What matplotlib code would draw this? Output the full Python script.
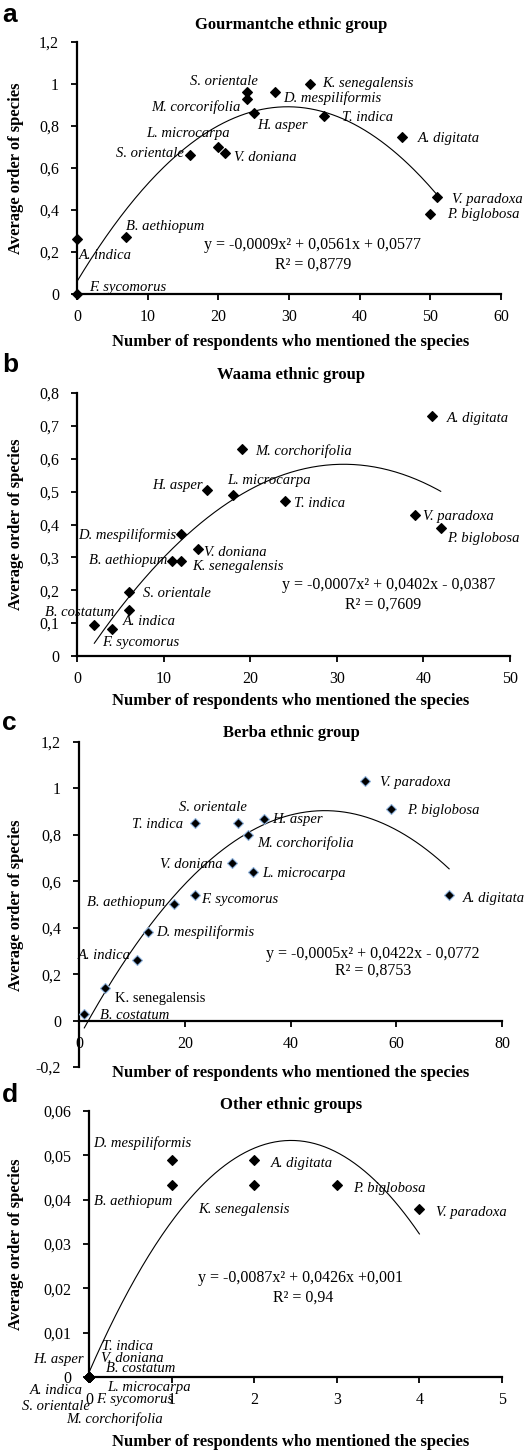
import numpy as np
import matplotlib
matplotlib.use('Agg')
import matplotlib.pyplot as plt
from matplotlib.ticker import MultipleLocator, FuncFormatter

W, H = 524, 1451

# a - Gourmantche ethnic group
a_species = ['S. orientale', 'M. corcorifolia', 'D. mespiliformis', 'K. senegalensis',
             'H. asper', 'T. indica', 'A. digitata', 'L. microcarpa', 'V. doniana',
             'S. orientale', 'V. paradoxa', 'P. biglobosa', 'B. aethiopum', 'A. indica',
             'F. sycomorus']
a_x = [24, 24, 28, 33, 25, 35, 46, 20, 21, 16, 51, 50, 7, 0, 0]
a_y = [0.96, 0.93, 0.96, 1.0, 0.86, 0.85, 0.75, 0.70, 0.67, 0.66, 0.46, 0.38, 0.27, 0.26, 0.0]
a_eq = ['y = -0,0009x² + 0,0561x + 0,0577', 'R² = 0,8779']

# b - Waama ethnic group
b_species = ['A. digitata', 'M. corchorifolia', 'H. asper', 'L. microcarpa', 'T. indica',
             'V. paradoxa', 'P. biglobosa', 'D. mespiliformis', 'V. doniana', 'B. aethiopum',
             'K. senegalensis', 'S. orientale', 'A. indica', 'B. costatum', 'F. sycomorus']
b_x = [41, 19, 15, 18, 24, 39, 42, 12, 14, 11, 12, 6, 6, 2, 4]
b_y = [0.73, 0.63, 0.505, 0.49, 0.47, 0.43, 0.39, 0.37, 0.325, 0.29, 0.29, 0.195, 0.14,
       0.094, 0.082]
b_eq = ['y = -0,0007x² + 0,0402x - 0,0387', 'R² = 0,7609']

# c - Berba ethnic group
c_species = ['V. paradoxa', 'P. biglobosa', 'T. indica', 'S. orientale', 'H. asper',
             'M. corchorifolia', 'V. doniana', 'L. microcarpa', 'A. digitata', 'F. sycomorus',
             'B. aethiopum', 'D. mespiliformis', 'A. indica', 'K. senegalensis', 'B. costatum']
c_x = [54, 59, 22, 30, 35, 32, 29, 33, 70, 22, 18, 13, 11, 5, 1]
c_y = [1.03, 0.91, 0.85, 0.85, 0.87, 0.80, 0.68, 0.64, 0.54, 0.54, 0.50, 0.38, 0.26, 0.14, 0.03]
c_eq = ['y = -0,0005x² + 0,0422x - 0,0772', 'R² = 0,8753']

# d - Other ethnic groups
d_species = ['D. mespiliformis', 'B. aethiopum', 'A. digitata', 'K. senegalensis',
             'P. biglobosa', 'V. paradoxa', 'T. indica', 'H. asper', 'V. doniana',
             'B. costatum', 'L. microcarpa', 'A. indica', 'F. sycomorus', 'S. orientale',
             'M. corchorifolia']
d_x = [1, 1, 2, 2, 3, 4, 0, 0, 0, 0, 0, 0, 0, 0, 0]
d_y = [0.0489, 0.0433, 0.0489, 0.0433, 0.0433, 0.0378, 0, 0, 0, 0, 0, 0, 0, 0, 0]
d_eq = ['y = -0,0087x² + 0,0426x +0,001', 'R² = 0,94']

# label placement (pixel offsets from the marker, alignment)
a_lab = [(11, 11, 'right'), (-6, -8, 'right'), (8, -6, 'left'), (12, 0, 'left'),
         (3, -12, 'left'), (18, -2, 'left'), (16, -2, 'left'), (-30, 13, 'center'),
         (9, -4, 'left'), (-6, 2, 'right'), (15, -2, 'left'), (17, 0, 'left'),
         (0, 11, 'left'), (2, -16, 'left'), (12, 6, 'left')]
b_lab = [(15, -2, 'left'), (14, -2, 'left'), (-4, 4, 'right'), (-6, 14, 'left'),
         (9, -2, 'left'), (8, -2, 'left'), (6, -11, 'left'), (-4, -1, 'right'),
         (6, -3, 'left'), (-5, 0, 'right'), (11, -6, 'left'), (14, -2, 'left'),
         (-6, -12, 'left'), (-49, 13, 'left'), (-10, -13, 'left')]
c_lab = [(15, -1, 'left'), (16, -1, 'left'), (-12, -1, 'right'), (-25, 16, 'center'),
         (8, -1, 'left'), (9, -8, 'left'), (-10, -2, 'right'), (9, -2, 'left'),
         (14, -3, 'left'), (6, -4, 'left'), (-9, 2, 'right'), (8, 0, 'left'),
         (-6, 5, 'right'), (10, -10, 'left'), (16, -2, 'left')]
d_lab = [(-29, 17, 'center'), (-38, -16, 'center'), (17, -3, 'left'), (-10, -24, 'center'),
         (16, -3, 'left'), (17, -3, 'left'), (13, 31, 'left'), (-5, 17, 'right'),
         (12, 18, 'left'), (17, 8, 'left'), (18, -11, 'left'), (-6, -13, 'right'),
         (7, -22, 'left'), (1, -30, 'right'), (-23, -42, 'left')]

plt.rcParams['font.family'] = 'Liberation Serif'

fig = plt.figure(figsize=(W / 100, H / 100), dpi=100)


def comma(v, pos):
    return f'{v:g}'.replace('.', ',')


def px_text(x, y, s, **kw):
    fig.text(x / W, 1 - y / H, s, **kw)


def panel(rect, xlim, ylim, xstep, ystep, xs, ys, names, labs, eq, eqpos,
          title, letter, ty, xly, yly, edge='k', upright=()):
    l, t, r, b = rect
    ax = fig.add_axes([l / W, 1 - b / H, (r - l) / W, (b - t) / H])
    ax.set_xlim(*xlim)
    ax.set_ylim(*ylim)
    for s in ['top', 'right']:
        ax.spines[s].set_visible(False)
    for s in ['left', 'bottom']:
        ax.spines[s].set_linewidth(1.6)
    ax.spines['bottom'].set_position(('data', 0))
    ax.xaxis.set_major_locator(MultipleLocator(xstep))
    ax.yaxis.set_major_locator(MultipleLocator(ystep))
    ax.yaxis.set_major_formatter(FuncFormatter(comma))
    ax.xaxis.set_major_formatter(FuncFormatter(comma))
    ax.tick_params(axis='both', direction='out', length=4, width=1.3, labelsize=11.5)
    ax.tick_params(axis='x', pad=7)
    ax.tick_params(axis='y', pad=9)

    # second order trend line, fitted to the points
    coef = np.polyfit(xs, ys, 2)
    xx = np.linspace(min(xs), max(xs), 200)
    ax.plot(xx, np.polyval(coef, xx), color='k', lw=0.8, zorder=2)
    ax.plot(xs, ys, ls='none', marker='D', ms=5.6, mfc='k', mec=edge, mew=0.8,
            clip_on=False, zorder=4)
    for i, (x, y, name, (dx, dy, ha)) in enumerate(zip(xs, ys, names, labs)):
        style = 'normal' if i in upright else 'italic'
        ax.annotate(name, (x, y), xytext=(dx, dy), textcoords='offset pixels',
                    ha=ha, va='center', fontsize=10.5, style=style, zorder=3,
                    annotation_clip=False)

    px_text(eqpos[0], eqpos[1], eq[0], ha='center', va='center', fontsize=11.5)
    px_text(eqpos[2], eqpos[3], eq[1], ha='center', va='center', fontsize=11.5)
    px_text(291, ty, title, ha='center', va='center', fontsize=12, weight='bold')
    px_text(291, xly, 'Number of respondents who mentioned the species',
            ha='center', va='center', fontsize=12, weight='bold')
    px_text(16, yly, 'Average order of species', ha='center', va='center',
            rotation=90, fontsize=12, weight='bold')
    px_text(2, ty - 10, letter, ha='left', va='center', fontsize=19, weight='bold',
            family='Liberation Sans')
    return ax


panel((77, 42, 501, 294), (0, 60), (0, 1.2), 10, 0.2, a_x, a_y, a_species, a_lab,
      a_eq, (313, 245, 313, 265), 'Gourmantche ethnic group', 'a', 25, 342, 168)
panel((77, 393, 510, 656), (0, 50), (0, 0.8), 10, 0.1, b_x, b_y, b_species, b_lab,
      b_eq, (389, 585, 383, 605), 'Waama ethnic group', 'b', 375, 701, 524)
panel((79, 742, 502, 1067), (0, 80), (-0.2, 1.2), 20, 0.2, c_x, c_y, c_species, c_lab,
      c_eq, (373, 954, 373, 971), 'Berba ethnic group', 'c', 733, 1073, 905,
      edge='#8fb3dd', upright=(13,))
panel((89, 1111, 502, 1377), (0, 5), (0, 0.06), 1, 0.01, d_x, d_y, d_species, d_lab,
      d_eq, (301, 1278, 303, 1298), 'Other ethnic groups', 'd', 1105, 1442, 1244)

fig.savefig('out.png', dpi=100)
